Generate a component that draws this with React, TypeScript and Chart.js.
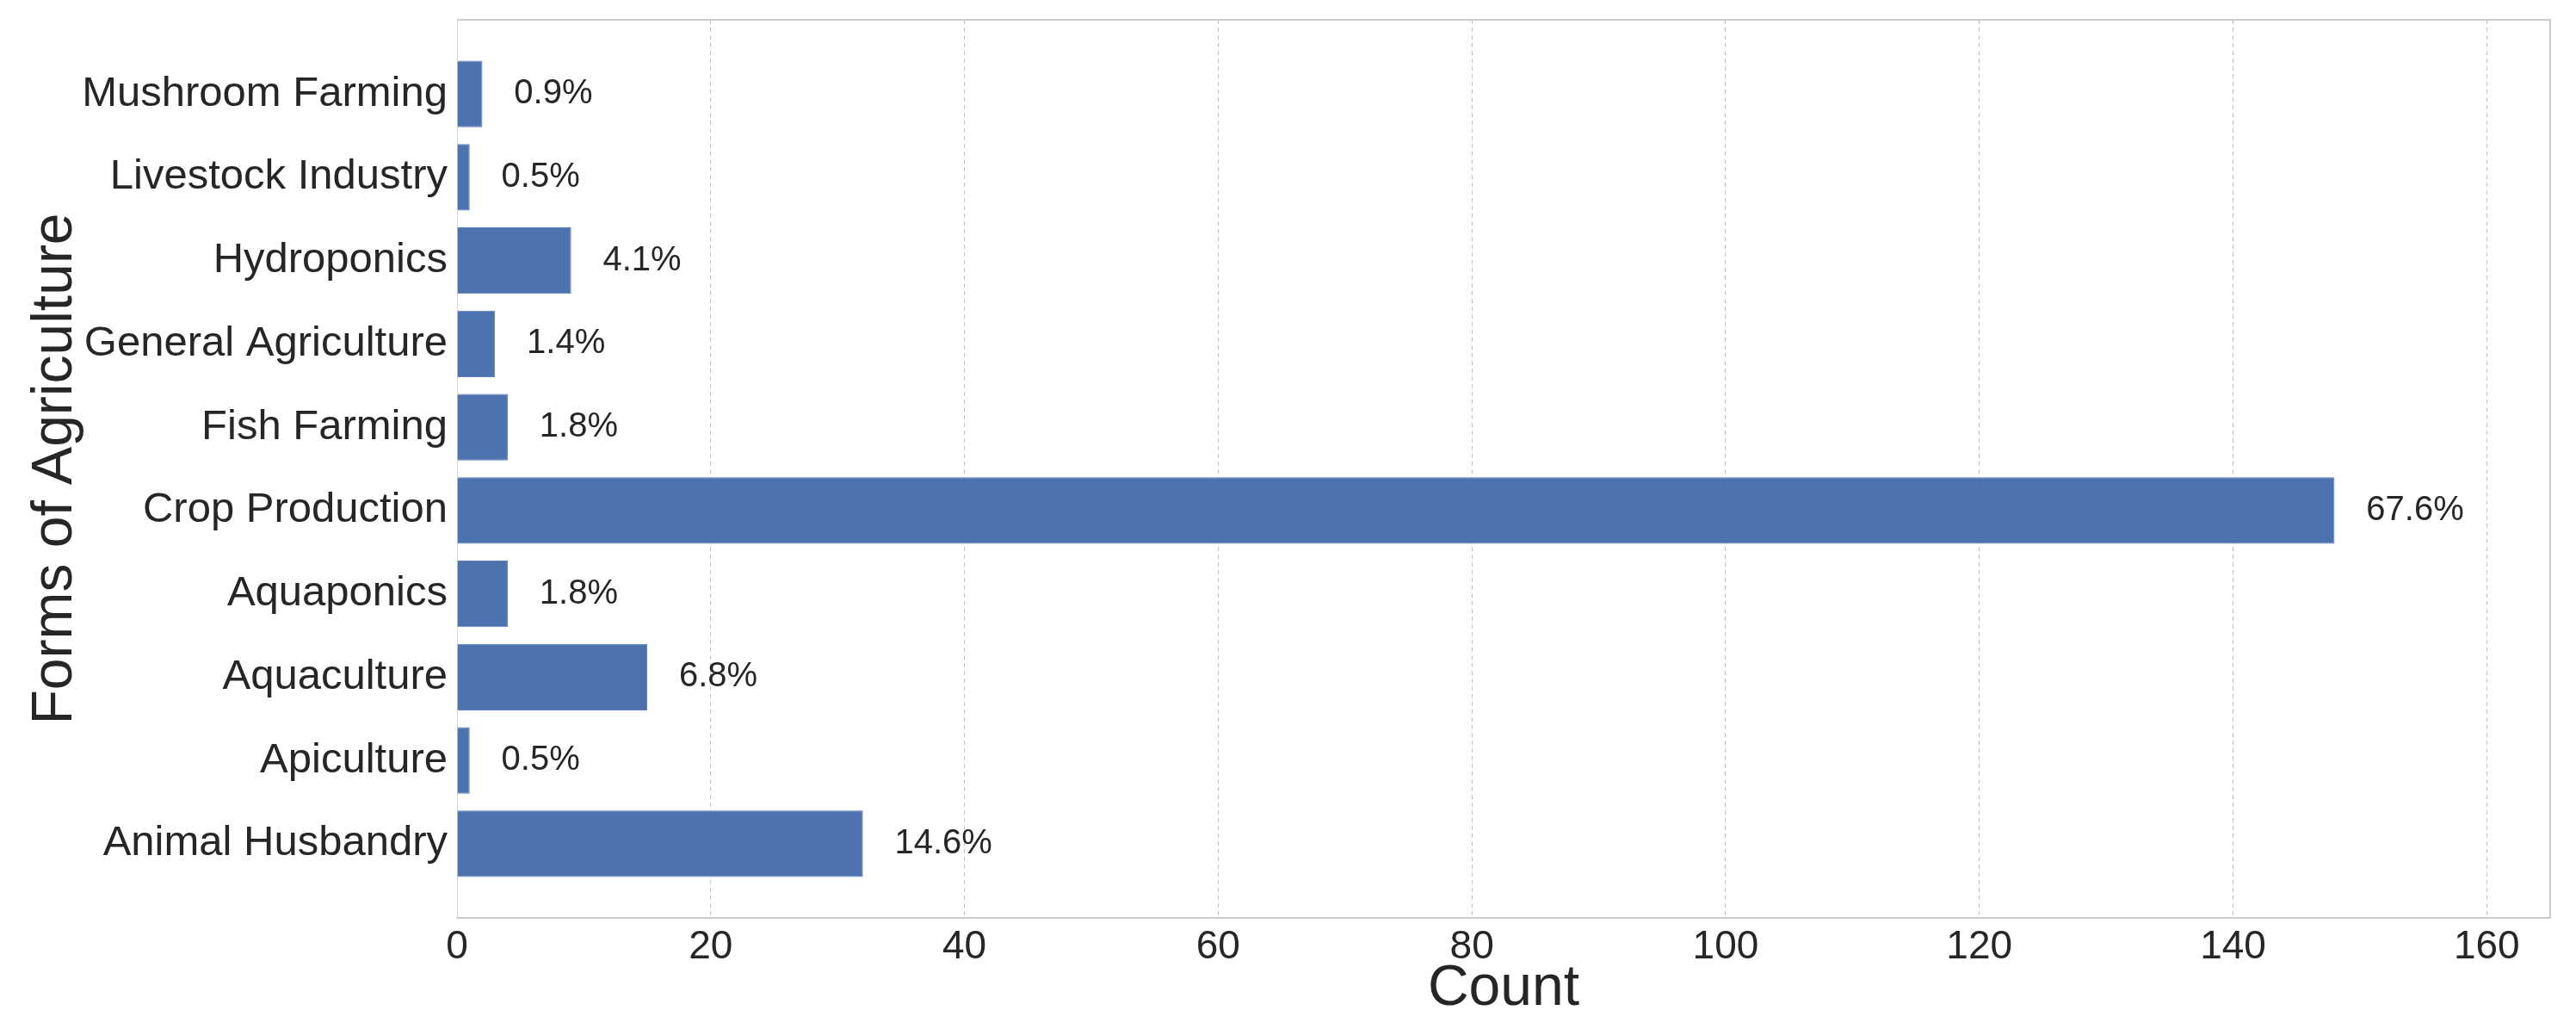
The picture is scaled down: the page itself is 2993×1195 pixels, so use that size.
import React, { useEffect, useRef } from 'react';
import { Chart, registerables } from 'chart.js';

Chart.register(...registerables);

const categories = [
  'Animal Husbandry',
  'Apiculture',
  'Aquaculture',
  'Aquaponics',
  'Crop Production',
  'Fish Farming',
  'General Agriculture',
  'Hydroponics',
  'Livestock Industry',
  'Mushroom Farming',
];
const counts = [32, 1, 15, 4, 148, 4, 3, 9, 1, 2];
const percentLabels = ['14.6%', '0.5%', '6.8%', '1.8%', '67.6%', '1.8%', '1.4%', '4.1%', '0.5%', '0.9%'];
const xTicks = [0, 20, 40, 60, 80, 100, 120, 140, 160];

const FONT = '"Liberation Sans", Arial, Helvetica, sans-serif';
const TEXT = '#262626';
const SPINE = '#cccccc';

const valueLabels = {
  id: 'valueLabels',
  afterDatasetsDraw(chart: any) {
    const { ctx, scales } = chart;
    const x = scales.x;
    const y = scales.y;
    ctx.save();
    ctx.font = `40px ${FONT}`;
    ctx.fillStyle = TEXT;
    ctx.textAlign = 'left';
    ctx.textBaseline = 'middle';
    counts.forEach((c, i) => {
      ctx.fillText(percentLabels[i], x.getPixelForValue(c + 2.5), y.getPixelForValue(i));
    });
    ctx.restore();
  },
};

const frame = {
  id: 'frame',
  afterDraw(chart: any) {
    const { ctx, chartArea } = chart;
    ctx.save();
    ctx.strokeStyle = SPINE;
    ctx.lineWidth = 2;
    ctx.beginPath();
    ctx.moveTo(chartArea.left, chartArea.top);
    ctx.lineTo(chartArea.right, chartArea.top);
    ctx.lineTo(chartArea.right, chartArea.bottom);
    ctx.stroke();
    ctx.restore();
  },
};

export default function App() {
  const ref = useRef<HTMLCanvasElement | null>(null);

  useEffect(() => {
    if (!ref.current) return;
    const chart = new Chart(ref.current, {
      type: 'bar',
      data: {
        datasets: [
          {
            data: counts.map((c, i) => ({ x: c, y: i })),
            backgroundColor: '#4c72b0',
            borderColor: '#5a7fba',
            borderWidth: 1,
            categoryPercentage: 0.8,
            barPercentage: 1.0,
          },
        ],
      },
      options: {
        indexAxis: 'y',
        responsive: false,
        animation: false,
        devicePixelRatio: 1,
        layout: { padding: { left: 0, top: 23, right: 30, bottom: 0 } },
        plugins: {
          legend: { display: false },
          tooltip: { enabled: false },
        },
        scales: {
          x: {
            type: 'linear',
            min: 0,
            max: 165,
            offset: false,
            afterBuildTicks: (scale: any) => {
              scale.ticks = xTicks.map((v) => ({ value: v }));
            },
            afterFit: (scale: any) => {
              scale.height = 129;
              scale.paddingLeft = 0;
              scale.paddingRight = 0;
            },
            grid: {
              display: true,
              color: '#b4c4dc',
              lineWidth: 1,
              drawTicks: false,
              offset: false,
            },
            border: { display: true, color: SPINE, width: 2, dash: [5, 4] },
            ticks: {
              color: TEXT,
              font: { family: FONT, size: 46 },
              padding: 7,
              maxRotation: 0,
            },
            title: {
              display: true,
              text: 'Count',
              color: TEXT,
              font: { family: FONT, size: 66 },
              padding: { top: 0, bottom: 7 },
            },
          },
          y: {
            type: 'linear',
            min: -0.89,
            max: 9.89,
            offset: false,
            afterBuildTicks: (scale: any) => {
              scale.ticks = categories.map((_, i) => ({ value: i }));
            },
            afterFit: (scale: any) => {
              scale.width = 531;
              scale.paddingTop = 0;
              scale.paddingBottom = 0;
            },
            grid: { display: false, drawTicks: false, offset: false },
            border: { display: true, color: '#d6d6d6', width: 1 },
            ticks: {
              color: TEXT,
              font: { family: FONT, size: 49 },
              padding: 11,
              autoSkip: false,
              callback: (v: any) => categories[v as number] ?? '',
            },
            title: {
              display: true,
              text: 'Forms of Agriculture',
              color: TEXT,
              font: { family: FONT, size: 66 },
              padding: { top: 25, bottom: 0 },
            },
          },
        },
      },
      plugins: [valueLabels, frame],
    } as any);

    return () => chart.destroy();
  }, []);

  return (
    <div style={{ position: 'absolute', left: 0, top: 0, width: 2993, height: 1195, background: '#ffffff' }}>
      <canvas ref={ref} width={2993} height={1195} style={{ display: 'block' }} />
    </div>
  );
}
